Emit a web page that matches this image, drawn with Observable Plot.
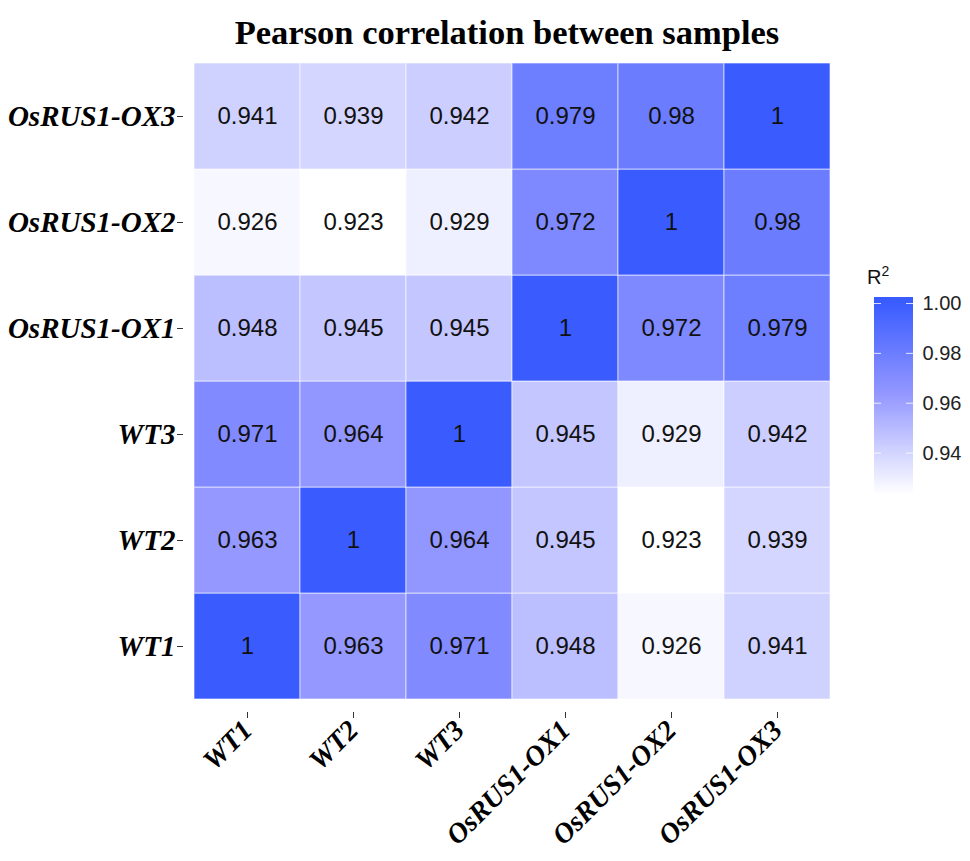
<!DOCTYPE html>
<html>
<head>
<meta charset="utf-8">
<script src="https://cdn.jsdelivr.net/npm/d3@7"></script>
<script src="https://cdn.jsdelivr.net/npm/@observablehq/plot@0.6"></script>
<style>
  html, body { margin: 0; padding: 0; background: white; }
  #wrap { position: relative; width: 970px; height: 861px; overflow: hidden; background: white; }
  #title { position: absolute; top: 12px; left: 0; width: 1014px; text-align: center;
           font: bold 34.5px "Liberation Serif", "DejaVu Serif", serif; line-height: 40px; color: #000; }
  #main { position: absolute; left: 0; top: 0; }
  #legend { position: absolute; left: 860px; top: 260px; }
  #rlab { position: absolute; left: 867px; top: 266px; font: 20px "Liberation Sans", Arial, sans-serif; color: #111; }
  #rlab sup { font-size: 14px; vertical-align: 8px; line-height: 0; }
</style>
</head>
<body>
<div id="wrap">
  <div id="main"></div>
  <div id="title">Pearson correlation between samples</div>
  <div id="rlab">R<sup>2</sup></div>
  <div id="legend"></div>
</div>
<script>
// ---- data ----
const samples = ["WT1", "WT2", "WT3", "OsRUS1-OX1", "OsRUS1-OX2", "OsRUS1-OX3"];
const rWT1 = [1, 0.963, 0.971, 0.948, 0.926, 0.941];
const rWT2 = [0.963, 1, 0.964, 0.945, 0.923, 0.939];
const rWT3 = [0.971, 0.964, 1, 0.945, 0.929, 0.942];
const rOX1 = [0.948, 0.945, 0.945, 1, 0.972, 0.979];
const rOX2 = [0.926, 0.923, 0.929, 0.972, 1, 0.98];
const rOX3 = [0.941, 0.939, 0.942, 0.979, 0.98, 1];
const legendTicks = [0.94, 0.96, 0.98, 1.00];
const colorDomain = [0.923, 0.963, 1];
const colorRange = ["#ffffff", "rgb(148,152,255)", "rgb(58,92,255)"];

const matrix = [rWT1, rWT2, rWT3, rOX1, rOX2, rOX3];
const cells = [];
matrix.forEach((row, i) => row.forEach((v, j) => cells.push({row: samples[i], col: samples[j], value: v})));

const colorOpts = {type: "linear", domain: colorDomain, range: colorRange, interpolate: "rgb", clamp: true};
const serif = "Liberation Serif, DejaVu Serif, serif";

const main = Plot.plot({
  width: 970, height: 861,
  marginTop: 62, marginBottom: 161, marginLeft: 191, marginRight: 138,
  style: {background: "white", fontFamily: "Liberation Sans, Arial, sans-serif", overflow: "visible"},
  x: {domain: samples, padding: 0, label: null},
  y: {domain: [...samples].reverse(), padding: 0, label: null},
  color: colorOpts,
  marks: [
    Plot.cell(cells, {x: "col", y: "row", fill: "value", inset: 0, stroke: "white", strokeOpacity: 0.6, strokeWidth: 1}),
    Plot.text(cells, {x: "col", y: "row", text: d => String(d.value), fontSize: 24, fill: "#111"}),
    Plot.axisY({tickSize: 6, tickPadding: 2, dx: -8, fontSize: 29, fontWeight: "bold", fontStyle: "italic",
                fontFamily: serif, fill: "black", stroke: "#333", label: null}),
    Plot.axisX({tickSize: 6, dy: 12, tickFormat: () => "", stroke: "#333", label: null}),
    Plot.axisX({tickSize: 0, tickPadding: 3, dy: 22, tickRotate: -45, fontSize: 28, fontWeight: "bold", fontStyle: "italic",
                fontFamily: serif, fill: "black", label: null})
  ]
});
main.querySelectorAll('[aria-label$="tick label"] text, [aria-label$="tick label"]').forEach(n => {
  n.setAttribute("font-style", "italic"); n.setAttribute("font-weight", "bold");
});
document.getElementById("main").append(main);

// ---- legend (vertical colour bar) ----
const step = 0.0004;
const stops = d3.range(0.923, 1.002, step);
const legend = Plot.plot({
  width: 110, height: 250,
  marginTop: 38, marginBottom: 15, marginLeft: 14, marginRight: 57,
  style: {background: "transparent", fontFamily: "Liberation Sans, Arial, sans-serif", overflow: "visible"},
  x: {domain: [0, 1], axis: null},
  y: {domain: [0.923, 1.002], label: null},
  color: colorOpts,
  marks: [
    Plot.rect(stops, {x1: 0, x2: 1, y1: d => d, y2: d => d + step * 1.3, fill: d => d, shapeRendering: "crispEdges"}),
    Plot.ruleY(legendTicks, {x1: 0, x2: 0.18, stroke: "white", strokeOpacity: 0.8}),
    Plot.ruleY(legendTicks, {x1: 0.82, x2: 1, stroke: "white", strokeOpacity: 0.8}),
    Plot.axisY(legendTicks, {anchor: "right", tickSize: 0, tickPadding: 9, tickFormat: d3.format(".2f"),
                fontSize: 20, fill: "#222", label: null})
  ]
});
document.getElementById("legend").append(legend);
</script>
</body>
</html>
